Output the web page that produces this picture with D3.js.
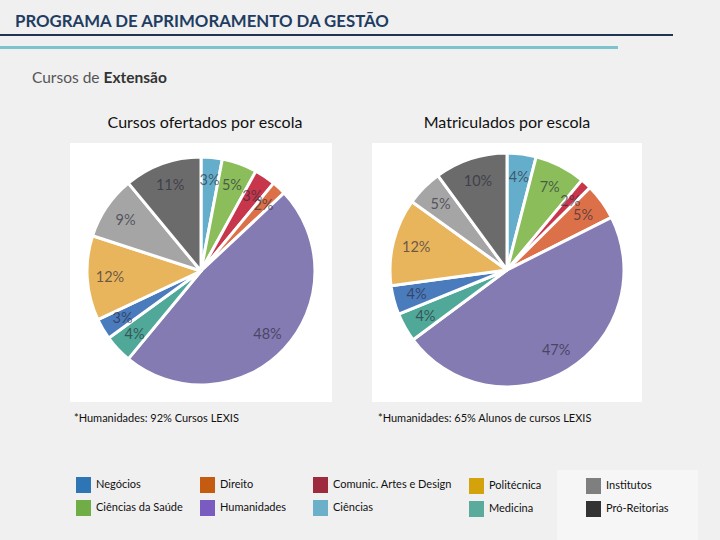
<!DOCTYPE html>
<html><head><meta charset="utf-8">
<script src="https://cdn.jsdelivr.net/npm/d3@7"></script>
<style>body{margin:0;background:#f0f0f0;}svg{display:block;}</style>
</head><body>
<svg id="c" width="720" height="540"></svg>
<script>
const categories = ["Ciências","Ciências da Saúde","Comunic. Artes e Design","Direito","Humanidades","Medicina","Negócios","Politécnica","Institutos","Pró-Reitorias"];
const cursosOfertados = [3,5,3,2,48,4,3,12,9,11];
const matriculados = [4,7,1.5,5,47,4,4,12,5,10];
const matriculadosLabels = ["4%","7%","2%","5%","47%","4%","4%","12%","5%","10%"];
const cursosLabels = ["3%","5%","3%","2%","48%","4%","3%","12%","9%","11%"];
const sliceColors = ["#65aecb","#8bbd5b","#c8364c","#dc7048","#857bb3","#4fa898","#4a7bbd","#e8b45c","#a5a5a5","#6b6b6b"];
const legendOrder = ["Negócios","Ciências da Saúde","Direito","Humanidades","Comunic. Artes e Design","Ciências","Politécnica","Medicina","Institutos","Pró-Reitorias"];
const legendLabels = ["Negócios","Ciências da Saúde","Direito","Humanidades","Comunic.  Artes e Design","Ciências","Politécnica","Medicina","Institutos","Pró-Reitorias"];
const legendColors = ["#2e75b6","#70ad47","#c55a11","#7a5cc0","#9e2a3e","#6bb0c8","#d4a20a","#5aab9b","#7f7f7f","#333333"];
const footnotes = ["*Humanidades: 92% Cursos LEXIS","*Humanidades: 65% Alunos de cursos LEXIS"];

const svg = d3.select("#c");
const F = "Lato, 'Open Sans', sans-serif";

// header
svg.append("text").attr("x",15).attr("y",27).attr("font-family","Lato, 'Noto Sans', sans-serif")
  .attr("font-weight","bold").attr("font-size",16.8).attr("fill","#1f3d62")
  .text("PROGRAMA DE APRIMORAMENTO DA GESTÃO");
svg.append("rect").attr("x",0).attr("y",34).attr("width",673).attr("height",2).attr("fill","#1f3552");
svg.append("rect").attr("x",0).attr("y",46).attr("width",618).attr("height",3).attr("fill","#7cc3ce");

const sub = svg.append("text").attr("x",32).attr("y",83).attr("font-family",F).attr("font-size",15.5).attr("fill","#555");
sub.append("tspan").text("Cursos de ");
sub.append("tspan").attr("font-weight","bold").attr("fill","#333").text("Extensão");

// legend background box
svg.append("rect").attr("x",557).attr("y",470).attr("width",141).attr("height",70).attr("fill","#f6f6f6");

function drawPie(cfg){
  svg.append("rect").attr("x",cfg.box[0]).attr("y",cfg.box[1]).attr("width",cfg.box[2]).attr("height",cfg.box[3]).attr("fill","#ffffff");
  svg.append("text").attr("x",cfg.tx).attr("y",128).attr("text-anchor","middle").attr("font-family",F)
    .attr("font-size",16).attr("fill","#111").text(cfg.title);
  const pie = d3.pie().sort(null).value(d=>d.v);
  const arcs = pie(cfg.values.map((v,i)=>({v,i})));
  const arc = d3.arc().innerRadius(0).outerRadius(cfg.r);
  const lab = d3.arc().innerRadius(cfg.r*0.8).outerRadius(cfg.r*0.8);
  const g = svg.append("g").attr("transform",`translate(${cfg.cx},${cfg.cy})`);
  g.selectAll("path").data(arcs).join("path").attr("d",arc)
    .attr("fill",d=>sliceColors[d.data.i]).attr("stroke","#fff").attr("stroke-width",3).attr("stroke-linejoin","round");
  g.selectAll("text").data(arcs).join("text")
    .attr("transform",d=>`translate(${lab.centroid(d)})`)
    .attr("text-anchor","middle").attr("dy","0.35em").attr("font-family",F).attr("font-size",14.5)
    .attr("fill","#2a2a3a").attr("fill-opacity",0.68).text(d=>cfg.labels[d.data.i]);
  svg.append("text").attr("x",cfg.fx).attr("y",422).attr("font-family",F).attr("font-size",11)
    .attr("fill","#111").text(cfg.foot);
}
drawPie({box:[70,143,262,259],cx:201,cy:271,r:114,values:cursosOfertados,labels:cursosLabels,
  title:"Cursos ofertados por escola",tx:205,fx:74,foot:footnotes[0]});
drawPie({box:[372,143,270,259],cx:507,cy:270,r:117,values:matriculados,labels:matriculadosLabels,
  title:"Matriculados por escola",tx:507,fx:378,foot:footnotes[1]});

// legend
const colX = [76,200,313,469,586];
const rowY = [[477,500],[477,500],[477,500],[478,501],[478,501]];
legendOrder.forEach((name,k)=>{
  const col = Math.floor(k/2), row = k%2;
  const x = colX[col], y = rowY[col][row];
  svg.append("rect").attr("x",x).attr("y",y).attr("width",15).attr("height",16).attr("fill",legendColors[k]);
  svg.append("text").attr("x",x+20).attr("y",y+11).attr("font-family",F).attr("font-size",11)
    .attr("fill","#111").text(legendLabels[k]);
});
</script>
</body></html>
